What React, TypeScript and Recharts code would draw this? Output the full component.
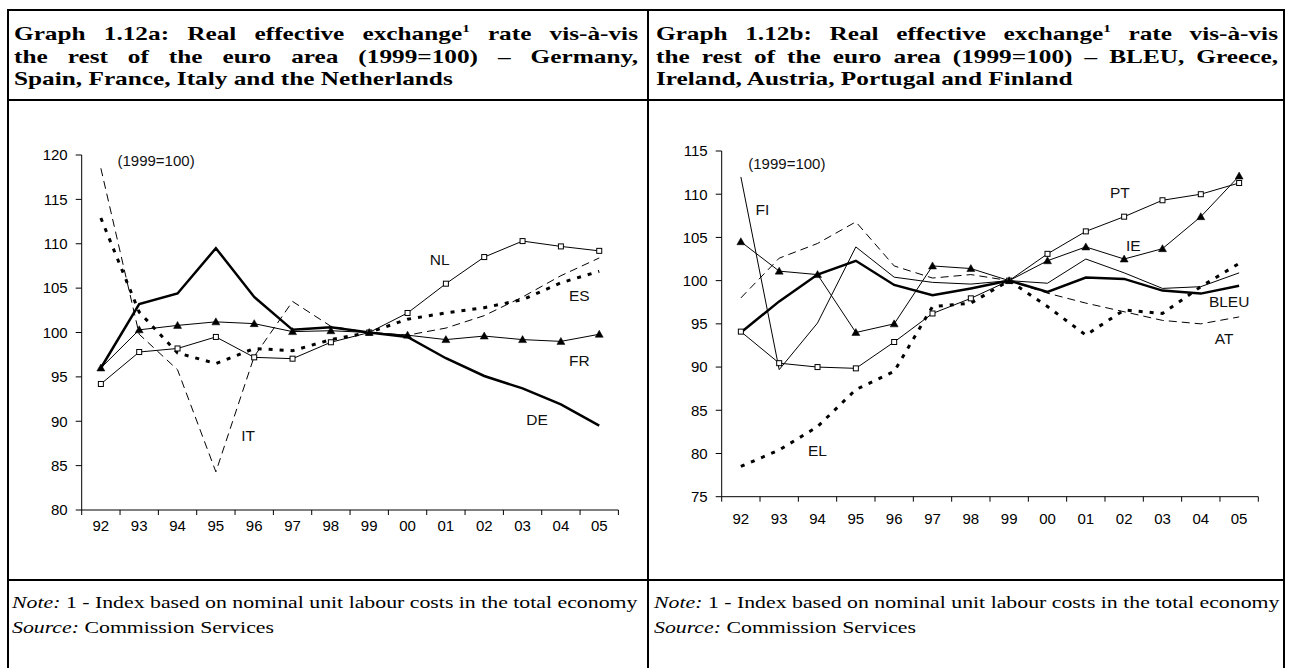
import React from 'react';
import { LineChart, Line, XAxis, YAxis, ReferenceDot } from 'recharts';

// ---------- data ----------
const years = ['92', '93', '94', '95', '96', '97', '98', '99', '00', '01', '02', '03', '04', '05'];

// Graph 1.12a
const deValues = [96.0, 103.2, 104.4, 109.5, 104.0, 100.3, 100.6, 100.0, 99.5, 97.1, 95.1, 93.7, 91.9, 89.5];
const frValues = [96.0, 100.3, 100.8, 101.2, 101.0, 100.1, 100.2, 100.0, 99.7, 99.2, 99.6, 99.2, 99.0, 99.8];
const nlValues = [94.2, 97.8, 98.2, 99.5, 97.2, 97.05, 98.9, 100.0, 102.2, 105.5, 108.5, 110.3, 109.7, 109.2];
const itValues = [118.5, 99.8, 95.8, 84.3, 97.3, 103.5, 100.7, 100.0, 99.7, 100.5, 101.9, 104.0, 106.4, 108.4];
const esValues = [112.9, 102.3, 97.7, 96.5, 98.2, 97.95, 99.2, 100.0, 101.5, 102.2, 102.8, 103.7, 105.6, 106.9];

// Graph 1.12b
const bleuValues = [94.0, 97.6, 100.7, 102.3, 99.5, 98.3, 99.1, 100.0, 98.7, 100.35, 100.2, 98.85, 98.5, 99.4];
const elValues = [78.5, 80.4, 83.1, 87.4, 89.5, 97.0, 97.4, 100.0, 97.0, 93.7, 96.6, 96.2, 99.3, 102.0];
const ieValues = [104.5, 101.1, 100.7, 94.0, 95.0, 101.7, 101.4, 100.0, 102.3, 103.9, 102.5, 103.7, 107.4, 112.1];
const atValues = [98.0, 102.6, 104.3, 106.8, 101.7, 100.3, 100.7, 100.0, 98.55, 97.4, 96.4, 95.4, 95.0, 95.8];
const ptValues = [94.1, 90.45, 90.0, 89.85, 92.9, 96.2, 97.95, 100.0, 103.1, 105.7, 107.4, 109.3, 110.0, 111.3];
const fiValues = [112.0, 89.7, 95.1, 103.9, 100.4, 99.8, 99.6, 100.0, 99.7, 102.5, 100.9, 99.1, 99.3, 100.9];

const leftYTicks = [80, 85, 90, 95, 100, 105, 110, 115, 120];
const rightYTicks = [75, 80, 85, 90, 95, 100, 105, 110, 115];

// in-chart annotations, anchored in data space (x = category position, y = index value)
const leftNotes = [
  { text: '(1999=100)', x: 1.94, y: 119.4 },
  { text: 'NL', x: 9.34, y: 108.25 },
  { text: 'ES', x: 12.98, y: 104.15 },
  { text: 'FR', x: 12.98, y: 96.82 },
  { text: 'DE', x: 11.88, y: 90.22 },
  { text: 'IT', x: 4.34, y: 88.45 },
];
const rightNotes = [
  { text: '(1999=100)', x: 1.7, y: 113.6 },
  { text: 'FI', x: 1.06, y: 108.26 },
  { text: 'PT', x: 10.39, y: 110.18 },
  { text: 'IE', x: 10.74, y: 104.02 },
  { text: 'BLEU', x: 13.24, y: 97.58 },
  { text: 'AT', x: 13.11, y: 93.27 },
  { text: 'EL', x: 2.5, y: 80.32 },
];

const leftTitle = [
  'Graph 1.12a: Real effective exchange',
  ' rate vis-à-vis',
  'the rest of the euro area (1999=100) – Germany,',
  'Spain, France, Italy and the Netherlands',
];
const rightTitle = [
  'Graph 1.12b: Real effective exchange',
  ' rate vis-à-vis',
  'the rest of the euro area (1999=100) – BLEU, Greece,',
  'Ireland, Austria, Portugal and Finland',
];
const noteText = ' 1 - Index based on nominal unit labour costs in the total economy';
const sourceText = ' Commission Services';

// ---------- helpers ----------
const buildRows = (series: Record<string, number[]>) =>
  years.map((y, i) => {
    const row: Record<string, number | string> = { x: i + 0.5, year: y };
    Object.keys(series).forEach((k) => {
      row[k] = series[k][i];
    });
    return row;
  });

const leftRows = buildRows({ DE: deValues, FR: frValues, NL: nlValues, IT: itValues, ES: esValues });
const rightRows = buildRows({ BLEU: bleuValues, EL: elValues, IE: ieValues, AT: atValues, PT: ptValues, FI: fiValues });

const boundaryTicks = Array.from({ length: years.length + 1 }, (_, i) => i);
const centerTicks = years.map((_, i) => i + 0.5);

const SANS = '"Liberation Sans", Arial, Helvetica, sans-serif';
const SERIF = '"Liberation Serif", "Times New Roman", Times, serif';

const TK = 'a_tk';
const LAB = 'b_lab';

const triangleDot = (p: any) => {
  const key = `t-${p.dataKey}-${p.index}`;
  if (p.cx == null || p.cy == null) return <g key={key} />;
  const { cx, cy } = p;
  return <path key={key} d={`M${cx},${cy - 4} L${cx + 4},${cy + 3} L${cx - 4},${cy + 3} Z`} fill="#000" stroke="#000" strokeWidth={0.5} />;
};

const squareDot = (p: any) => {
  const key = `s-${p.dataKey}-${p.index}`;
  if (p.cx == null || p.cy == null) return <g key={key} />;
  return <rect key={key} x={p.cx - 2.5} y={p.cy - 2.5} width={5} height={5} fill="#fff" stroke="#000" strokeWidth={1} />;
};

const tickStyle = { fill: '#000', fontSize: 15, fontFamily: SANS };

type Note = { text: string; x: number; y: number };

const renderNotes = (notes: Note[]) =>
  notes.map((n) => (
    <ReferenceDot
      key={n.text}
      x={n.x}
      y={n.y}
      xAxisId={TK}
      yAxisId="v"
      r={0}
      ifOverflow="visible"
      shape={(p: any) => (
        <text x={p.cx} y={p.cy} textAnchor="middle" dominantBaseline="central" fontSize={n.text.startsWith('(') ? 15 : 15.5} fontFamily={SANS} fill="#111">
          {n.text}
        </text>
      )}
    />
  ));

const axes = (domain: [number, number], yTicks: number[], labelMargin: number) => [
  <XAxis
    key="tk"
    xAxisId={TK}
    type="number"
    dataKey="x"
    domain={[0, years.length]}
    allowDataOverflow
    ticks={boundaryTicks}
    interval={0}
    height={10}
    tickSize={5}
    tickFormatter={() => ''}
    axisLine={{ stroke: '#000', strokeWidth: 1 }}
    tickLine={{ stroke: '#000', strokeWidth: 1 }}
  />,
  <XAxis
    key="lab"
    xAxisId={LAB}
    type="number"
    dataKey="x"
    domain={[0, years.length]}
    allowDataOverflow
    ticks={centerTicks}
    interval={0}
    height={30}
    tickSize={0}
    tickMargin={labelMargin}
    axisLine={false}
    tickLine={false}
    tick={tickStyle}
    tickFormatter={(v: number) => years[Math.floor(v)] ?? ''}
  />,
  <YAxis
    key="v"
    yAxisId="v"
    type="number"
    domain={domain}
    allowDataOverflow
    ticks={yTicks}
    interval={0}
    width={60}
    tickSize={6}
    tickMargin={8}
    axisLine={{ stroke: '#000', strokeWidth: 1 }}
    tickLine={{ stroke: '#000', strokeWidth: 1 }}
    tick={tickStyle}
  />,
];

const common = { xAxisId: TK, yAxisId: 'v', type: 'linear' as const, isAnimationActive: false, stroke: '#000' };

// ---------- layout pieces ----------
const K = 1.33; // horizontal stretch of the document text

const Rule = ({ x, y, w, h }: { x: number; y: number; w: number; h: number }) => (
  <div style={{ position: 'absolute', left: x, top: y, width: w, height: h, background: '#000' }} />
);

const TitleLine = ({ x, cy, w, justify, children }: { x: number; cy: number; w: number; justify: boolean; children: React.ReactNode }) => (
  <div
    style={{
      position: 'absolute',
      left: x,
      top: cy - 12,
      width: w / K,
      height: 24,
      lineHeight: '24px',
      fontFamily: SERIF,
      fontWeight: 'bold',
      fontSize: 19,
      color: '#000',
      textAlign: justify ? 'justify' : 'left',
      textAlignLast: justify ? 'justify' : 'left',
      transform: `scaleX(${K})`,
      transformOrigin: '0 0',
    } as React.CSSProperties}
  >
    {children}
  </div>
);

const NoteLine = ({ x, cy, label, text }: { x: number; cy: number; label: string; text: string }) => (
  <div
    style={{
      position: 'absolute',
      left: x,
      top: cy - 11,
      height: 22,
      lineHeight: '22px',
      whiteSpace: 'nowrap',
      fontFamily: SERIF,
      fontSize: 16.4,
      color: '#000',
      transform: `scaleX(${K})`,
      transformOrigin: '0 0',
    }}
  >
    <i>{label}</i>
    {text}
  </div>
);

const Title = ({ x, w, lines }: { x: number; w: number; lines: string[] }) => (
  <>
    <TitleLine x={x} cy={34} w={w} justify>
      {lines[0]}
      <sup style={{ fontSize: '0.6em', lineHeight: 0, verticalAlign: '0.7em' }}>1</sup>
      {lines[1]}
    </TitleLine>
    <TitleLine x={x} cy={56.5} w={w} justify>
      {lines[2]}
    </TitleLine>
    <TitleLine x={x} cy={79} w={w} justify={false}>
      {lines[3]}
    </TitleLine>
  </>
);

export default function App() {
  return (
    <div style={{ position: 'absolute', left: 0, top: 0, width: 1290, height: 668, background: '#fff', overflow: 'hidden' }}>
      {/* table rules */}
      <Rule x={7} y={9} w={1278} h={2} />
      <Rule x={7} y={99} w={1278} h={2} />
      <Rule x={7} y={579} w={1278} h={2} />
      <Rule x={7} y={9} w={2} h={659} />
      <Rule x={647} y={9} w={2} h={659} />
      <Rule x={1283} y={9} w={2} h={659} />

      <Title x={14} w={624} lines={leftTitle} />
      <Title x={656} w={622} lines={rightTitle} />

      {/* left chart: plot area x 81.7..618.4, y 155..510 */}
      <div style={{ position: 'absolute', left: 0, top: 100 }}>
        <LineChart width={648} height={480} data={leftRows} margin={{ top: 55, right: 29.6, bottom: 30, left: 21.7 }}>
          {axes([80, 120], leftYTicks, 0)}
          <Line {...common} dataKey="IT" strokeWidth={1} strokeDasharray="8 5" dot={false} />
          <Line {...common} dataKey="ES" strokeWidth={3} strokeDasharray="4 7" dot={false} />
          <Line {...common} dataKey="NL" strokeWidth={1} dot={squareDot} />
          <Line {...common} dataKey="FR" strokeWidth={1} dot={triangleDot} />
          <Line {...common} dataKey="DE" strokeWidth={2.5} dot={false} />
          {renderNotes(leftNotes)}
        </LineChart>
      </div>

      {/* right chart: plot area x 721.7..1258.3, y 151..496.7 */}
      <div style={{ position: 'absolute', left: 648, top: 100 }}>
        <LineChart width={642} height={480} data={rightRows} margin={{ top: 51, right: 31.7, bottom: 43.3, left: 13.7 }}>
          {axes([75, 115], rightYTicks, 7)}
          <Line {...common} dataKey="AT" strokeWidth={1} strokeDasharray="8 5" dot={false} />
          <Line {...common} dataKey="EL" strokeWidth={3} strokeDasharray="4 7" dot={false} />
          <Line {...common} dataKey="FI" strokeWidth={1} dot={false} />
          <Line {...common} dataKey="PT" strokeWidth={1} dot={squareDot} />
          <Line {...common} dataKey="IE" strokeWidth={1} dot={triangleDot} />
          <Line {...common} dataKey="BLEU" strokeWidth={2.5} dot={false} />
          {renderNotes(rightNotes)}
        </LineChart>
      </div>

      <NoteLine x={12} cy={603} label="Note:" text={noteText} />
      <NoteLine x={12} cy={628} label="Source:" text={sourceText} />
      <NoteLine x={654} cy={603} label="Note:" text={noteText} />
      <NoteLine x={654} cy={628} label="Source:" text={sourceText} />
    </div>
  );
}
